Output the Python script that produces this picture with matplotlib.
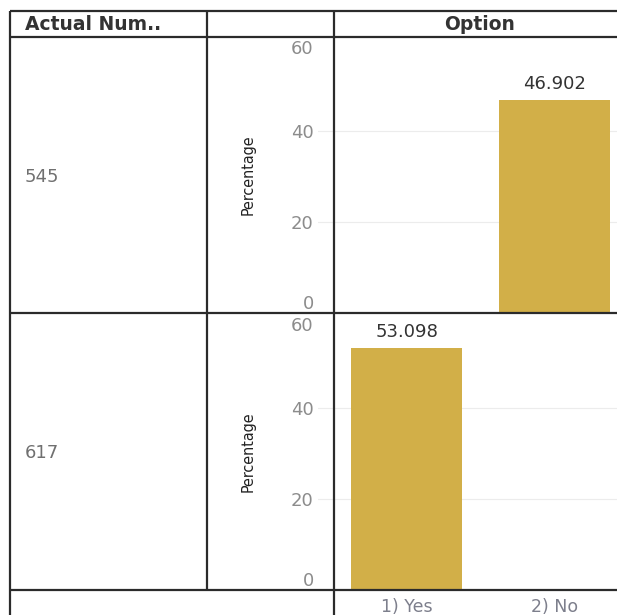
import matplotlib.pyplot as plt
from matplotlib.lines import Line2D

options = ['1) Yes', '2) No']
actual_numbers = ['545', '617']
# percentage of each option per row (None = no mark in that cell)
percentages = [[None, 46.902], [53.098, None]]
yticks = [0, 20, 40, 60]

W, H = 617, 615
gold = '#D2AF48'
line_col = '#2b2b2b'

fig = plt.figure(figsize=(W / 100, H / 100), dpi=100)


def fx(px):
    return px / W


def fy(py):
    return 1 - py / H


# cell top / bottom in pixels
rows = [(37, 313), (313, 590)]
ppu = 4.55  # pixels per percentage point

for r, (top, bottom) in enumerate(rows):
    ax = fig.add_axes([fx(318), fy(bottom), fx(630) - fx(318), (bottom - top) / H])
    ax.set_ylim(0, (bottom - top) / ppu)
    ax.set_xlim(-0.601, 1.507)
    for s in ax.spines.values():
        s.set_visible(False)
    ax.set_yticks(yticks)
    ax.tick_params(axis='y', length=0, pad=3, labelsize=13, labelcolor='#8c8c8c')
    labels = ax.get_yticklabels()
    labels[0].set_verticalalignment('bottom')
    labels[-1].set_verticalalignment('top')
    for t in yticks[1:-1]:
        ax.axhline(t, color='#ececec', lw=0.8, zorder=0)
    ax.set_xticks(range(len(options)))
    if r == len(rows) - 1:
        ax.set_xticklabels(options, fontsize=12.5, color='#7d7f8c')
        ax.tick_params(axis='x', length=0, pad=6)
    else:
        ax.set_xticklabels([])
        ax.tick_params(axis='x', length=0)
    for i, v in enumerate(percentages[r]):
        if v is None:
            continue
        ax.bar(i, v, width=0.75, color=gold, zorder=2)
        ax.annotate(f'{v:.3f}', (i, v), xytext=(0, 5), textcoords='offset points',
                    ha='center', va='bottom', fontsize=13, color='#333333')
    ax.set_ylabel('Percentage', family='DejaVu Sans', fontstretch='condensed',
                  fontsize=11.5, color='#222222')
    ax.yaxis.set_label_coords(-0.2, 0.5)

    fig.text(fx(25), fy((top + bottom) / 2 + 2), actual_numbers[r], ha='left', va='center',
             fontsize=13, color='#707070')

# headers
fig.text(fx(25), fy(24), 'Actual Num..', ha='left', va='center', fontsize=13.5,
         fontweight='bold', color='#333333')
fig.text(fx(480), fy(24), 'Option', ha='center', va='center', fontsize=13.5,
         fontweight='bold', color='#333333')

# table grid lines
segments = [
    ((10, 617), (11, 11)),
    ((10, 617), (37, 37)),
    ((10, 617), (313, 313)),
    ((10, 617), (590, 590)),
    ((10, 10), (11, 615)),
    ((207, 207), (11, 590)),
    ((334, 334), (11, 615)),
]
for xs, ys in segments:
    fig.add_artist(Line2D([fx(x) for x in xs], [fy(y) for y in ys],
                          color=line_col, lw=1.6, solid_capstyle='butt'))

fig.savefig('out.png', dpi=100)
